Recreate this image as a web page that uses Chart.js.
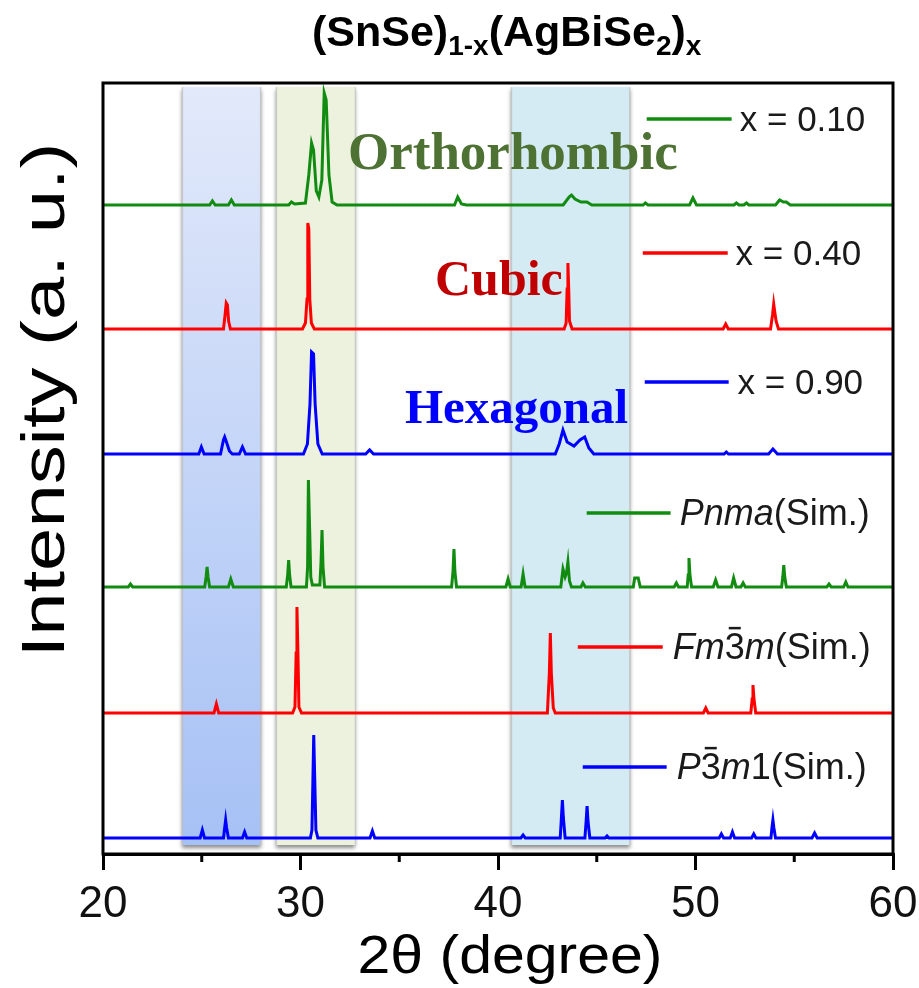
<!DOCTYPE html>
<html>
<head>
<meta charset="utf-8">
<script src="https://cdn.jsdelivr.net/npm/chart.js@4"></script>
<style>
  html, body { margin: 0; padding: 0; background: #fff; }
  #wrap { width: 919px; height: 988px; }
</style>
</head>
<body>
<div id="wrap"><canvas id="chart" width="919" height="988"></canvas></div>
<script>
// XRD patterns, [2theta, intensity above own baseline]
const x010 = [[20,0],[25.4,0],[25.54,4],[25.68,0],[26.35,0],[26.5,5],[26.65,0],[29.4,0],[29.54,3],[29.7,1],[30.25,2],[30.42,30],[30.56,62],[30.66,55],[30.8,14],[30.93,8],[31.08,25],[31.2,112],[31.3,105],[31.44,30],[31.6,3],[31.85,0],[37.8,0],[37.96,8],[38.15,1],[38.4,0],[43.3,0],[43.6,8],[43.72,10],[43.9,6],[44.2,3],[44.5,3],[44.75,0],[47.35,0],[47.46,2],[47.6,0],[49.7,0],[49.87,7],[50.05,0],[51.95,0],[52.07,2],[52.2,0],[52.45,0],[52.58,2],[52.7,0],[54.05,0],[54.26,5],[54.45,3],[54.6,3],[54.8,0],[60,0]];
const x040 = [[20,0],[26.1,0],[26.18,14],[26.24,26],[26.3,24],[26.36,8],[26.45,0],[30.1,0],[30.25,6],[30.33,30],[30.37,106],[30.42,100],[30.47,30],[30.55,6],[30.7,0],[43.35,0],[43.45,6],[43.5,40],[43.54,66],[43.58,40],[43.62,8],[43.75,0],[51.4,0],[51.53,5],[51.66,0],[53.8,0],[53.9,14],[53.96,25],[54.02,16],[54.08,8],[54.2,0],[60,0]];
const x090 = [[20,0],[24.85,0],[24.98,7],[25.12,0],[25.95,0],[26.1,14],[26.16,17],[26.25,12],[26.4,3],[26.55,0],[26.9,0],[27.06,7],[27.22,0],[30.15,0],[30.35,10],[30.48,50],[30.56,102],[30.66,100],[30.74,50],[30.88,10],[31.1,0],[33.3,0],[33.5,4],[33.7,0],[42.9,0],[43.1,10],[43.29,24],[43.5,12],[43.85,8],[44.15,14],[44.39,17],[44.6,6],[44.85,0],[51.45,0],[51.56,2],[51.67,0],[53.7,0],[53.92,5],[54.15,0],[60,0]];
const pnma = [[20,0],[21.28,0],[21.39,3],[21.5,0],[25.15,0],[25.22,10],[25.27,20],[25.32,10],[25.4,0],[26.35,0],[26.47,8],[26.6,0],[29.28,0],[29.35,12],[29.4,27],[29.45,12],[29.52,0],[30.3,0],[30.36,20],[30.4,107],[30.46,60],[30.52,10],[30.6,2],[30.98,2],[31.04,25],[31.09,57],[31.14,20],[31.22,0],[37.65,0],[37.72,15],[37.77,38],[37.82,15],[37.9,0],[40.4,0],[40.51,8],[40.62,0],[41.17,0],[41.27,13],[41.37,0],[43.18,0],[43.29,18],[43.4,10],[43.47,14],[43.54,25],[43.62,6],[43.72,0],[44.2,0],[44.3,4],[44.42,0],[46.85,0],[46.92,9],[47.1,9],[47.2,0],[48.92,0],[49.03,4],[49.14,0],[49.58,0],[49.63,12],[49.67,29],[49.72,12],[49.8,0],[50.9,0],[51.02,7],[51.14,0],[51.82,0],[51.93,9],[52.05,0],[52.3,0],[52.41,4],[52.52,0],[54.36,0],[54.42,10],[54.47,22],[54.52,10],[54.6,0],[56.65,0],[56.76,3],[56.87,0],[57.5,0],[57.61,5],[57.72,0],[60,0]];
const fm3m = [[20,0],[25.62,0],[25.74,9],[25.86,0],[29.6,0],[29.72,6],[29.78,60],[29.82,106],[29.87,60],[29.92,6],[30.05,0],[42.5,0],[42.6,40],[42.65,80],[42.7,40],[42.8,5],[42.9,0],[50.4,0],[50.52,5],[50.64,0],[52.8,0],[52.87,14],[52.91,28],[52.96,14],[53.05,0],[60,0]];
const p3m1 = [[20,0],[24.92,0],[25.03,8],[25.14,0],[26.1,0],[26.16,10],[26.21,18],[26.26,10],[26.35,0],[27.06,0],[27.17,6],[27.28,0],[30.5,0],[30.58,8],[30.63,60],[30.67,103],[30.72,60],[30.78,8],[30.88,0],[33.52,0],[33.64,7],[33.76,0],[41.16,0],[41.27,3],[41.38,0],[43.15,0],[43.21,20],[43.26,38],[43.31,20],[43.4,0],[44.4,0],[44.46,16],[44.51,32],[44.56,16],[44.65,0],[45.42,0],[45.52,2],[45.62,0],[51.2,0],[51.31,4],[51.42,0],[51.76,0],[51.87,6],[51.98,0],[52.84,0],[52.95,4],[53.06,0],[53.82,0],[53.87,10],[53.92,18],[53.97,10],[54.05,0],[55.9,0],[56.03,5],[56.16,0],[60,0]];

const patterns = [x010, x040, x090, pnma, fm3m, p3m1];
const seriesNames = ['x = 0.10', 'x = 0.40', 'x = 0.90', 'Pnma(Sim.)', 'Fm-3m(Sim.)', 'P-3m1(Sim.)'];
const seriesColors = ['#118c11', '#ff0000', '#0000ff', '#118c11', '#ff0000', '#0000ff'];
const stackOffsets = [649, 525, 400, 267, 141, 16];   // vertical offset of each trace (a.u.)

const xTicks = [20, 30, 40, 50, 60];
const xMinorTicks = [25, 35, 45, 55];

// highlighted 2theta windows
const bandRanges = [[24.02, 27.98], [28.78, 32.78], [40.68, 46.67]];

const FONT = '"Liberation Sans", Arial, sans-serif';
const SERIF = '"Liberation Serif", "Times New Roman", serif';

const datasets = patterns.map((p, i) => ({
  label: seriesNames[i],
  data: p.map(pt => ({ x: pt[0], y: pt[1] + stackOffsets[i] })),
  borderColor: seriesColors[i],
  borderWidth: 3,
  pointRadius: 0,
  tension: 0,
  fill: false
}));

// legend entries placed in data units: [lineStart, lineEnd, y, textStart]
const legendPlace = [
  [47.53, 51.83, 735, 52.24],
  [47.33, 51.63, 601, 52.03],
  [47.43, 51.68, 472, 52.13],
  [44.49, 48.74, 341, 49.2],
  [44.04, 48.34, 207, 48.85],
  [44.29, 48.54, 87, 49.05]
];
const legendText = [
  [['x = 0.10', 0, 0]],
  [['x = 0.40', 0, 0]],
  [['x = 0.90', 0, 0]],
  [['Pnma', 1, 0], ['(Sim.)', 0, 0]],
  [['Fm', 1, 0], ['3', 0, 1], ['m', 1, 0], ['(Sim.)', 0, 0]],
  [['P', 1, 0], ['3', 0, 1], ['m', 1, 0], ['1(Sim.)', 0, 0]]
];

const bandsPlugin = {
  id: 'bands',
  beforeDatasetsDraw(chart) {
    const { ctx, scales: { x, y } } = chart;
    const top = y.getPixelForValue(767), bot = y.getPixelForValue(9);
    const fills = [null, '#edf2df', '#d4ebf3'];
    bandRanges.forEach((r, i) => {
      const l = x.getPixelForValue(r[0]), rr = x.getPixelForValue(r[1]);
      ctx.save();
      let f = fills[i];
      if (i === 0) {
        f = ctx.createLinearGradient(0, top, 0, bot);
        f.addColorStop(0, '#e2e9fa');
        f.addColorStop(1, '#a6c1f5');
      }
      ctx.shadowColor = 'rgba(0,0,0,0.45)';
      ctx.shadowOffsetY = 3;
      ctx.shadowBlur = 4;
      ctx.fillStyle = f;
      ctx.fillRect(l, top, rr - l, bot - top);
      ctx.restore();
      ctx.save();
      ctx.strokeStyle = 'rgba(190,190,190,0.6)';
      ctx.lineWidth = 1.5;
      ctx.beginPath();
      ctx.moveTo(l, top); ctx.lineTo(l, bot);
      ctx.moveTo(rr, top); ctx.lineTo(rr, bot);
      ctx.stroke();
      ctx.restore();
    });
  }
};

function drawParts(ctx, x0, yMid, parts, size) {
  let x = x0;
  parts.forEach(p => {
    ctx.font = (p[1] ? 'italic ' : '') + size + 'px ' + FONT;
    ctx.fillText(p[0], x, yMid);
    const w = ctx.measureText(p[0]).width;
    if (p[2]) {
      ctx.save();
      ctx.strokeStyle = '#1a1a1a';
      ctx.lineWidth = 2.5;
      ctx.beginPath();
      ctx.moveTo(x + w * 0.2, yMid - size * 0.58);
      ctx.lineTo(x + w * 0.8, yMid - size * 0.58);
      ctx.stroke();
      ctx.restore();
    }
    x += w;
  });
}

// draw text stretched along its own direction to a given length
function stretchText(ctx, str, cx, cy, font, len, angle) {
  ctx.save();
  ctx.font = font;
  ctx.translate(cx, cy);
  ctx.rotate(angle);
  const w = ctx.measureText(str).width;
  ctx.scale(len / w, 1);
  ctx.textAlign = 'center';
  ctx.fillText(str, 0, 0);
  ctx.restore();
}

const decorPlugin = {
  id: 'decor',
  afterDatasetsDraw(chart) {
    const { ctx, chartArea: a, scales: { x, y } } = chart;
    ctx.save();
    // frame
    ctx.strokeStyle = '#000';
    ctx.lineWidth = 3;
    ctx.strokeRect(a.left, a.top, a.right - a.left, a.bottom - a.top);
    // minor ticks
    ctx.beginPath();
    xMinorTicks.forEach(v => {
      const px = x.getPixelForValue(v);
      ctx.moveTo(px, a.bottom);
      ctx.lineTo(px, a.bottom + 8);
    });
    ctx.stroke();

    // legend
    ctx.textBaseline = 'middle';
    ctx.fillStyle = '#1a1a1a';
    legendPlace.forEach((lp, i) => {
      const yy = y.getPixelForValue(lp[2]);
      ctx.strokeStyle = seriesColors[i];
      ctx.lineWidth = 3.5;
      ctx.beginPath();
      ctx.moveTo(x.getPixelForValue(lp[0]), yy);
      ctx.lineTo(x.getPixelForValue(lp[1]), yy);
      ctx.stroke();
      drawParts(ctx, x.getPixelForValue(lp[3]), yy + 2, legendText[i], i < 3 ? 35 : 36);
    });

    // phase labels
    ctx.textBaseline = 'alphabetic';
    ctx.fillStyle = '#4e7233';
    ctx.font = 'bold 53px ' + SERIF;
    ctx.fillText('Orthorhombic', 348, 169);
    ctx.fillStyle = '#c00000';
    ctx.font = 'bold 50px ' + SERIF;
    ctx.fillText('Cubic', 435, 295);
    ctx.fillStyle = '#0000ff';
    ctx.font = 'bold 49px ' + SERIF;
    ctx.fillText('Hexagonal', 405, 423);

    // title with subscripts
    ctx.fillStyle = '#000';
    let tx = 312;
    const tb = 46;
    const titleParts = [['(SnSe)', 0], ['1-x', 1], ['(AgBiSe', 0], ['2', 1], [')', 0], ['x', 1]];
    titleParts.forEach(p => {
      ctx.font = 'bold ' + (p[1] ? 28 : 43) + 'px ' + FONT;
      ctx.fillText(p[0], tx, tb + (p[1] ? 9 : 0));
      tx += ctx.measureText(p[0]).width;
    });

    // axis titles
    stretchText(ctx, '2\u03b8 (degree)', 510, 973, '53px ' + FONT, 305, 0);
    stretchText(ctx, 'Intensity (a. u.)', 64, 400, '62px ' + FONT, 515, -Math.PI / 2);
    ctx.restore();
  }
};

new Chart(document.getElementById('chart'), {
  type: 'line',
  data: { datasets },
  options: {
    responsive: false,
    animation: false,
    devicePixelRatio: 1,
    layout: { padding: { left: 103, right: 26, top: 83, bottom: 0 } },
    plugins: { legend: { display: false }, tooltip: { enabled: false } },
    scales: {
      x: {
        type: 'linear',
        min: 20, max: 60,
        afterFit(scale) {
          scale.height = 134;
          scale.paddingLeft = 0;
          scale.paddingRight = 0;
        },
        afterBuildTicks(scale) { scale.ticks = xTicks.map(v => ({ value: v })); },
        grid: { drawOnChartArea: false, drawTicks: true, tickLength: 16, lineWidth: 3, color: '#000' },
        border: { display: true, color: '#000', width: 3 },
        ticks: { font: { family: FONT, size: 44 }, color: '#111', padding: 8, maxRotation: 0 }
      },
      y: {
        display: false,
        min: 0, max: 771
      }
    }
  },
  plugins: [bandsPlugin, decorPlugin]
});
</script>
</body>
</html>
